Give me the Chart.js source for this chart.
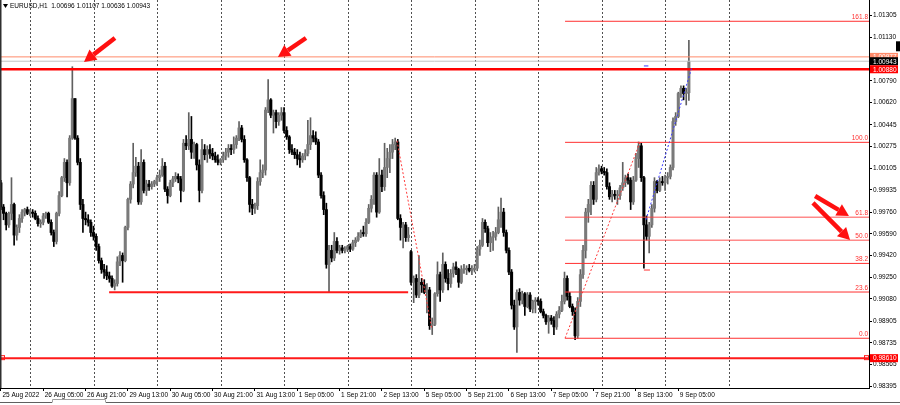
<!DOCTYPE html>
<html><head><meta charset="utf-8">
<script src="https://cdn.jsdelivr.net/npm/chart.js@4.4.0/dist/chart.umd.min.js"></script>
<style>html,body{margin:0;padding:0;background:#fff;overflow:hidden}canvas{display:block}</style>
</head><body>
<canvas id="c" width="900" height="405"></canvas>
<script>
// EURUSD H1, bars from 25 Aug 2022 13:00 (index 0) to 9 Sep 2022 09:00
const openP = [
0.9999,0.9980,0.9975,0.9966,0.9975,0.9982,0.9958,0.9964,0.9971,0.9976,
0.9978,0.9975,0.9976,0.9975,0.9971,0.9967,0.9968,0.9973,0.9975,0.9968,
0.9960,0.9953,0.9975,0.9989,1.0003,1.0015,0.9999,1.0034,1.0065,1.0034,
1.0015,0.9982,0.9971,0.9970,0.9968,0.9960,0.9957,0.9949,0.9938,0.9931,
0.9929,0.9926,0.9924,0.9918,0.9920,0.9937,0.9942,0.9938,0.9964,0.9986,
0.9998,1.0007,1.0012,0.9984,1.0015,0.9993,0.9998,0.9996,0.9998,1.0000,
1.0003,1.0005,1.0012,0.9994,0.9989,0.9999,1.0002,1.0004,1.0002,0.9993,
1.0030,1.0028,1.0033,1.0023,1.0029,1.0013,0.9993,1.0025,1.0021,1.0025,
1.0022,1.0020,1.0017,1.0015,1.0017,1.0020,1.0023,1.0026,1.0025,1.0029,
1.0034,1.0042,1.0033,1.0017,1.0003,0.9982,0.9979,0.9981,1.0000,1.0007,
1.0009,1.0056,1.0064,1.0052,1.0054,1.0047,1.0052,1.0054,1.0040,1.0035,
1.0025,1.0023,1.0021,1.0018,1.0017,1.0020,1.0022,1.0029,1.0036,1.0034,
1.0031,1.0005,0.9989,0.9978,0.9935,0.9946,0.9940,0.9953,0.9946,0.9948,
0.9946,0.9947,0.9949,0.9947,0.9952,0.9954,0.9957,0.9960,0.9959,0.9968,
0.9979,0.9986,1.0005,0.9976,1.0005,0.9996,1.0011,1.0018,1.0023,1.0029,
1.0031,0.9971,0.9964,0.9966,0.9956,0.9945,0.9921,0.9924,0.9911,0.9921,
0.9919,0.9913,0.9915,0.9887,0.9888,0.9912,0.9927,0.9915,0.9935,0.9924,
0.9920,0.9928,0.9933,0.9931,0.9921,0.9931,0.9931,0.9932,0.9930,0.9931,
0.9932,0.9947,0.9950,0.9968,0.9963,0.9952,0.9956,0.9957,0.9960,0.9970,
0.9976,0.9960,0.9946,0.9929,0.9903,0.9886,0.9913,0.9907,0.9912,0.9902,
0.9911,0.9900,0.9906,0.9907,0.9906,0.9898,0.9895,0.9890,0.9893,0.9891,
0.9886,0.9896,0.9899,0.9906,0.9924,0.9910,0.9902,0.9898,0.9879,0.9906,
0.9927,0.9946,0.9976,0.9982,0.9997,0.9986,1.0007,1.0010,1.0008,1.0007,
0.9996,0.9988,0.9990,0.9989,0.9989,0.9995,0.9999,1.0003,1.0001,0.9984,
1.0001,1.0018,1.0028,1.0003,0.9966,0.9957,0.9966,0.9979,1.0000,0.9993,
1.0000,0.9999,1.0003,1.0004,1.0011,1.0047,1.0051,1.0069,1.0073,1.0069,
1.00696];
const highP = [
1.0001,0.9982,0.9976,0.9976,1.0003,0.9983,0.9966,0.9974,0.9978,0.9979,
0.9980,0.9978,0.9978,0.9977,0.9973,0.9970,0.9975,0.9976,0.9976,0.9970,
0.9962,0.9976,0.9992,1.0004,1.0018,1.0017,1.0036,1.0090,1.0065,1.0036,
1.0018,0.9986,0.9976,0.9974,0.9970,0.9965,0.9959,0.9951,0.9940,0.9935,
0.9934,0.9929,0.9926,0.9923,0.9941,0.9945,0.9944,0.9965,0.9987,1.0000,
1.0030,1.0019,1.0015,1.0025,1.0017,1.0001,1.0001,1.0000,1.0001,1.0005,
1.0009,1.0018,1.0015,0.9996,1.0001,1.0004,1.0007,1.0006,1.0004,1.0033,
1.0036,1.0054,1.0051,1.0031,1.0030,1.0017,1.0033,1.0029,1.0028,1.0029,
1.0026,1.0023,1.0021,1.0018,1.0023,1.0026,1.0029,1.0029,1.0035,1.0036,
1.0047,1.0044,1.0036,1.0018,1.0004,0.9986,0.9983,1.0003,1.0017,1.0013,
1.0058,1.0080,1.0065,1.0056,1.0056,1.0054,1.0058,1.0058,1.0043,1.0036,
1.0029,1.0026,1.0025,1.0023,1.0022,1.0025,1.0048,1.0050,1.0040,1.0039,
1.0033,1.0007,0.9992,0.9983,0.9950,0.9950,0.9960,0.9956,0.9950,0.9950,
0.9949,0.9950,0.9951,0.9954,0.9956,0.9960,0.9962,0.9965,0.9971,0.9982,
0.9989,1.0007,1.0007,1.0018,1.0009,1.0030,1.0026,1.0029,1.0033,1.0034,
1.0033,0.9974,0.9968,0.9968,0.9964,0.9946,0.9926,0.9927,0.9942,0.9924,
0.9923,0.9920,0.9917,0.9893,0.9913,0.9937,0.9929,0.9944,0.9937,0.9931,
0.9931,0.9936,0.9937,0.9932,0.9934,0.9935,0.9934,0.9935,0.9934,0.9935,
0.9949,0.9954,0.9971,0.9970,0.9965,0.9960,0.9961,0.9964,0.9980,0.9987,
0.9979,0.9962,0.9948,0.9931,0.9907,0.9915,0.9916,0.9914,0.9913,0.9913,
0.9913,0.9907,0.9909,0.9909,0.9908,0.9900,0.9896,0.9895,0.9895,0.9894,
0.9898,0.9902,0.9911,0.9929,0.9926,0.9913,0.9904,0.9901,0.9909,0.9931,
0.9950,0.9979,0.9986,1.0000,1.0000,1.0011,1.0013,1.0012,1.0011,1.0010,
0.9999,0.9993,0.9993,0.9993,0.9997,1.0015,1.0005,1.0006,1.0003,1.0004,
1.0022,1.0031,1.0030,1.0004,0.9973,0.9968,0.9982,1.0003,1.0001,1.0003,
1.0004,1.0005,1.0007,1.0013,1.0050,1.0054,1.0070,1.0075,1.0075,1.0073,
1.01107];
const lowP = [
0.9978,0.9970,0.9962,0.9964,0.9970,0.9950,0.9954,0.9960,0.9968,0.9973,
0.9974,0.9973,0.9972,0.9970,0.9965,0.9964,0.9966,0.9971,0.9967,0.9958,
0.9949,0.9951,0.9973,0.9988,1.0000,0.9988,0.9997,1.0033,1.0033,1.0013,
0.9978,0.9960,0.9966,0.9965,0.9957,0.9954,0.9946,0.9936,0.9928,0.9924,
0.9923,0.9921,0.9917,0.9915,0.9918,0.9934,0.9921,0.9937,0.9962,0.9983,
0.9995,1.0004,0.9982,0.9982,0.9991,0.9989,0.9993,0.9994,0.9996,0.9997,
1.0000,1.0004,0.9992,0.9983,0.9988,0.9996,1.0000,0.9999,0.9984,0.9992,
1.0025,1.0025,1.0018,1.0018,1.0009,0.9984,0.9991,1.0017,1.0015,1.0018,
1.0017,1.0015,1.0013,1.0013,1.0015,1.0017,1.0019,1.0021,1.0022,1.0026,
1.0032,1.0031,1.0015,1.0000,0.9976,0.9974,0.9975,0.9978,0.9997,1.0003,
1.0005,1.0054,1.0050,1.0038,1.0042,1.0044,1.0048,1.0038,1.0033,1.0022,
1.0021,1.0018,1.0013,1.0011,1.0015,1.0017,1.0020,1.0025,1.0031,1.0029,
1.0003,0.9987,0.9974,0.9932,0.9913,0.9937,0.9938,0.9944,0.9943,0.9944,
0.9944,0.9945,0.9945,0.9946,0.9949,0.9953,0.9956,0.9957,0.9957,0.9967,
0.9976,0.9982,0.9972,0.9975,0.9992,0.9993,1.0003,1.0007,1.0018,1.0025,
0.9970,0.9954,0.9948,0.9953,0.9953,0.9919,0.9905,0.9909,0.9909,0.9913,
0.9912,0.9897,0.9884,0.9880,0.9887,0.9910,0.9906,0.9913,0.9921,0.9915,
0.9917,0.9925,0.9927,0.9917,0.9920,0.9928,0.9927,0.9929,0.9927,0.9929,
0.9930,0.9942,0.9949,0.9960,0.9949,0.9945,0.9946,0.9954,0.9959,0.9964,
0.9957,0.9944,0.9927,0.9900,0.9884,0.9866,0.9903,0.9904,0.9895,0.9901,
0.9898,0.9897,0.9897,0.9903,0.9897,0.9893,0.9888,0.9881,0.9888,0.9880,
0.9884,0.9893,0.9898,0.9904,0.9907,0.9901,0.9895,0.9876,0.9877,0.9902,
0.9924,0.9940,0.9968,0.9974,0.9982,0.9984,1.0005,1.0006,1.0005,0.9994,
0.9986,0.9984,0.9986,0.9982,0.9986,0.9993,0.9996,0.9998,0.9978,0.9982,
1.0000,1.0011,1.0000,0.9932,0.9954,0.9944,0.9964,0.9976,0.9991,0.9992,
0.9997,0.9993,0.9998,1.0002,1.0009,1.0044,1.0050,1.0066,1.0064,1.0060,
1.00636];
const closeP = [
0.9980,0.9975,0.9966,0.9975,0.9982,0.9958,0.9964,0.9971,0.9976,0.9978,
0.9975,0.9976,0.9975,0.9971,0.9967,0.9968,0.9973,0.9975,0.9968,0.9960,
0.9953,0.9975,0.9989,1.0003,1.0015,0.9999,1.0034,1.0065,1.0034,1.0015,
0.9982,0.9971,0.9970,0.9968,0.9960,0.9957,0.9949,0.9938,0.9931,0.9929,
0.9926,0.9924,0.9918,0.9920,0.9937,0.9942,0.9938,0.9964,0.9986,0.9998,
1.0007,1.0012,0.9984,1.0015,0.9993,0.9998,0.9996,0.9998,1.0000,1.0003,
1.0005,1.0012,0.9994,0.9989,0.9999,1.0002,1.0004,1.0002,0.9993,1.0030,
1.0028,1.0033,1.0023,1.0029,1.0013,0.9993,1.0025,1.0021,1.0025,1.0022,
1.0020,1.0017,1.0015,1.0017,1.0020,1.0023,1.0026,1.0025,1.0029,1.0034,
1.0042,1.0033,1.0017,1.0003,0.9982,0.9979,0.9981,1.0000,1.0007,1.0009,
1.0056,1.0064,1.0052,1.0054,1.0047,1.0052,1.0054,1.0040,1.0035,1.0025,
1.0023,1.0021,1.0018,1.0017,1.0020,1.0022,1.0029,1.0036,1.0034,1.0031,
1.0005,0.9989,0.9978,0.9935,0.9946,0.9940,0.9953,0.9946,0.9948,0.9946,
0.9947,0.9949,0.9947,0.9952,0.9954,0.9957,0.9960,0.9959,0.9968,0.9979,
0.9986,1.0005,0.9976,1.0005,0.9996,1.0011,1.0018,1.0023,1.0029,1.0031,
0.9971,0.9964,0.9966,0.9956,0.9958,0.9921,0.9924,0.9911,0.9921,0.9919,
0.9913,0.9915,0.9887,0.9888,0.9912,0.9927,0.9915,0.9935,0.9924,0.9920,
0.9928,0.9933,0.9931,0.9921,0.9931,0.9931,0.9932,0.9930,0.9931,0.9932,
0.9947,0.9950,0.9968,0.9963,0.9952,0.9956,0.9957,0.9960,0.9970,0.9976,
0.9960,0.9946,0.9929,0.9903,0.9886,0.9913,0.9907,0.9912,0.9902,0.9911,
0.9900,0.9906,0.9907,0.9906,0.9898,0.9895,0.9890,0.9893,0.9891,0.9886,
0.9896,0.9899,0.9906,0.9924,0.9910,0.9902,0.9898,0.9879,0.9906,0.9927,
0.9946,0.9976,0.9982,0.9997,0.9986,1.0007,1.0010,1.0008,1.0007,0.9996,
0.9988,0.9990,0.9989,0.9989,0.9995,0.9999,1.0003,1.0001,0.9984,1.0001,
1.0018,1.0028,1.0003,0.9966,0.9957,0.9966,0.9979,1.0000,0.9993,1.0000,
0.9999,1.0003,1.0004,1.0011,1.0047,1.0051,1.0069,1.0073,1.0069,1.0070,
1.00943];

const xTickBars = [0,16,32,48,64,80,96,112,128,144,160,176,192,208,224,240,256];
const xTickLabels = ["25 Aug 2022","26 Aug 05:00","26 Aug 21:00","29 Aug 13:00","30 Aug 05:00","30 Aug 21:00","31 Aug 13:00","1 Sep 05:00","1 Sep 21:00","2 Sep 13:00","5 Sep 05:00","5 Sep 21:00","6 Sep 13:00","7 Sep 05:00","7 Sep 21:00","8 Sep 13:00","9 Sep 05:00"];
const daySeparatorBars = [11,35,59,83,107,131,155,179,203,227,251,275];
const yTickValues = [0.98395,0.98565,0.98735,0.98905,0.99080,0.99250,0.99420,0.99590,0.99760,0.99935,1.00105,1.00275,1.00445,1.00620,1.00790,1.01130,1.01305];

const hLevels = [
  {price: 1.00977, color: '#ff8a6a', width: 1},
  {price: 1.00943, color: '#c4c4c4', width: 1},
  {price: 1.00880, color: '#ff0000', width: 2.5},
  {price: 0.98615, color: '#ff1a1a', width: 2}
];
const supportLine = {fromBar: 40.9, toBar: 153.9, price: 0.99131};
const fibLowPrice = 0.98771, fibHighPrice = 1.00307, fibStartBar = 213.2;
const fibLevels = [0, 23.6, 38.2, 50.0, 61.8, 100.0, 161.8];
const trendLines = [
  {from:[149.7, 1.0032], to:[162.9, 0.9884], color:'#ff3b3b'},
  {from:[213.2, 0.98771], to:[241.5, 1.00307], color:'#ff3b3b'},
  {from:[243.8, 0.9970], to:[261.2, 1.0090], color:'#3a3aff'}
];
const arrows = [
  {from:[43.1, 1.01125], to:[31.4, 1.00937]},
  {from:[115.3, 1.01125], to:[104.7, 1.00976]},
  {from:[307.7, 0.99886], to:[320.5, 0.99730]},
  {from:[306.9, 0.99832], to:[320.9, 0.99541]}
];
const priceTags = [
  {price:1.00977, text:'1.00977', bg:'#ff8a6a', fg:'#ffffff'},
  {price:1.00943, text:'1.00943', bg:'#000000', fg:'#ffffff'},
  {price:1.00880, text:'1.00880', bg:'#ff0000', fg:'#ffffff'},
  {price:0.98615, text:'0.98610', bg:'#ff0000', fg:'#ffffff'}
];
const headerText = 'EURUSD,H1  1.00696 1.01107 1.00636 1.00943';
const FONT = 'Liberation Sans';

const bodies = [], wicks = [], bodyCol = [], wickCol = [];
openP.forEach((o, i) => {
  const c = closeP[i];
  const bull = c >= o;
  bodies.push({x: i, y: [o, c]});
  wicks.push({x: i, y: [lowP[i], highP[i]]});
  bodyCol.push(bull ? '#7a7a7a' : '#000000');
  wickCol.push(bull ? '#606060' : '#000000');
});

const overlay = {
  id: 'overlay',
  beforeDatasetsDraw(chart) {
    const {ctx, chartArea: a, scales: {x}} = chart;
    ctx.save();
    ctx.strokeStyle = '#505050'; ctx.lineWidth = 1; ctx.setLineDash([2, 2]);
    daySeparatorBars.forEach(b => {
      const px = Math.round(x.getPixelForValue(b)) + 0.5;
      ctx.beginPath(); ctx.moveTo(px, a.top); ctx.lineTo(px, a.bottom); ctx.stroke();
    });
    ctx.restore();
  },
  afterDatasetsDraw(chart) {
    const {ctx, chartArea: a, scales: {x, y}} = chart;
    ctx.save();
    hLevels.forEach(l => {
      const py = y.getPixelForValue(l.price);
      ctx.strokeStyle = l.color; ctx.lineWidth = l.width;
      ctx.beginPath(); ctx.moveTo(a.left, py); ctx.lineTo(a.right, py); ctx.stroke();
    });
    const sq = y.getPixelForValue(hLevels[3].price);
    ctx.strokeStyle = '#ff1a1a'; ctx.lineWidth = 1;
    ctx.strokeRect(a.left + 0.5, sq - 2.5, 4, 4);
    ctx.strokeRect(a.right - 4.5, sq - 2.5, 4, 4);
    ctx.strokeStyle = '#ff1a1a'; ctx.lineWidth = 2;
    const sy = y.getPixelForValue(supportLine.price);
    ctx.beginPath(); ctx.moveTo(x.getPixelForValue(supportLine.fromBar), sy); ctx.lineTo(x.getPixelForValue(supportLine.toBar), sy); ctx.stroke();
    const fx = x.getPixelForValue(fibStartBar);
    ctx.font = '6.5px "' + FONT + '"'; ctx.textAlign = 'right'; ctx.textBaseline = 'bottom';
    fibLevels.forEach(lv => {
      const p = fibLowPrice + (fibHighPrice - fibLowPrice) * lv / 100;
      const py = y.getPixelForValue(p);
      const soft = (lv === 61.8 || lv === 50.0);
      ctx.strokeStyle = soft ? 'rgba(255,60,60,0.6)' : '#ff3030';
      ctx.lineWidth = soft ? 1.6 : 1;
      ctx.beginPath(); ctx.moveTo(fx, py); ctx.lineTo(a.right, py); ctx.stroke();
      ctx.fillStyle = '#ff3030';
      ctx.fillText(lv.toFixed(1), a.right - 1, py - 1);
    });
    ctx.lineWidth = 1; ctx.setLineDash([2, 2]);
    trendLines.forEach(t => {
      ctx.strokeStyle = t.color;
      ctx.beginPath();
      ctx.moveTo(x.getPixelForValue(t.from[0]), y.getPixelForValue(t.from[1]));
      ctx.lineTo(x.getPixelForValue(t.to[0]), y.getPixelForValue(t.to[1]));
      ctx.stroke();
    });
    ctx.setLineDash([]);
    ctx.strokeStyle = '#3a3aff'; ctx.lineWidth = 1;
    let py = y.getPixelForValue(1.00906);
    ctx.beginPath(); ctx.moveTo(x.getPixelForValue(243.0), py); ctx.lineTo(x.getPixelForValue(244.7), py); ctx.stroke();
    ctx.strokeStyle = '#ff3030';
    py = y.getPixelForValue(0.99306);
    ctx.beginPath(); ctx.moveTo(x.getPixelForValue(243.0), py); ctx.lineTo(x.getPixelForValue(245.3), py); ctx.stroke();
    arrows.forEach(ar => {
      const x1 = x.getPixelForValue(ar.from[0]), y1 = y.getPixelForValue(ar.from[1]);
      const x2 = x.getPixelForValue(ar.to[0]), y2 = y.getPixelForValue(ar.to[1]);
      const ang = Math.atan2(y2 - y1, x2 - x1);
      const hl = 12, hw = 6.5;
      const bx = x2 - Math.cos(ang) * hl, by = y2 - Math.sin(ang) * hl;
      ctx.strokeStyle = '#ff1010'; ctx.lineWidth = 4.5; ctx.lineCap = 'butt';
      ctx.beginPath(); ctx.moveTo(x1, y1); ctx.lineTo(bx, by); ctx.stroke();
      ctx.fillStyle = '#ff1010';
      ctx.beginPath();
      ctx.moveTo(x2, y2);
      ctx.lineTo(bx + Math.sin(ang) * hw, by - Math.cos(ang) * hw);
      ctx.lineTo(bx - Math.sin(ang) * hw, by + Math.cos(ang) * hw);
      ctx.closePath(); ctx.fill();
    });
    ctx.restore();
  },
  afterDraw(chart) {
    const {ctx, chartArea: a, scales: {y}, width} = chart;
    ctx.save();
    ctx.fillStyle = '#303030'; ctx.fillRect(0, 0, 1.5, a.bottom);
    ctx.font = '6.5px "' + FONT + '"'; ctx.textAlign = 'left'; ctx.textBaseline = 'middle';
    priceTags.forEach(t => {
      const py = y.getPixelForValue(t.price);
      ctx.fillStyle = t.bg; ctx.fillRect(a.right + 1, py - 4, width - a.right - 3, 8);
      ctx.fillStyle = t.fg; ctx.fillText(t.text, a.right + 4, py + 0.5);
    });
    const my = y.getPixelForValue(1.0106);
    ctx.fillStyle = '#000'; ctx.fillRect(width - 4, my - 5, 4, 10);
    ctx.fillStyle = '#000';
    ctx.beginPath(); ctx.moveTo(3, 4); ctx.lineTo(8, 4); ctx.lineTo(5.5, 8); ctx.closePath(); ctx.fill();
    ctx.font = '6.5px "' + FONT + '"'; ctx.textAlign = 'left'; ctx.textBaseline = 'middle';
    ctx.fillText(headerText, 10, 6.5);
    ctx.strokeStyle = '#606060'; ctx.lineWidth = 1;
    ctx.beginPath(); ctx.moveTo(0, 402.5); ctx.lineTo(52, 402.5); ctx.moveTo(106, 402.5); ctx.lineTo(width, 402.5); ctx.stroke();
    ctx.beginPath(); ctx.moveTo(52.5, 402.5); ctx.lineTo(52.5, 399.5); ctx.lineTo(105.5, 399.5); ctx.lineTo(105.5, 402.5); ctx.strokeStyle = '#a0a0a0'; ctx.stroke();
    ctx.restore();
  }
};

new Chart(document.getElementById('c'), {
  type: 'bar',
  data: {
    datasets: [
      {label: 'wick', data: wicks, backgroundColor: wickCol, barThickness: 1, grouped: false, order: 2, borderWidth: 0},
      {label: 'body', data: bodies, backgroundColor: bodyCol, barThickness: 2.4, grouped: false, order: 1, borderWidth: 0, minBarLength: 1}
    ]
  },
  options: {
    responsive: false, maintainAspectRatio: false, animation: false,
    layout: {padding: 0},
    plugins: {legend: {display: false}, tooltip: {enabled: false}},
    scales: {
      x: {
        type: 'linear', min: -0.338, max: 328.07, offset: false, bounds: 'data',
        grid: {drawOnChartArea: false, drawTicks: true, tickLength: 3, color: '#000', offset: false},
        border: {display: true, color: '#000', width: 1},
        afterBuildTicks: s => { s.ticks = xTickBars.map(v => ({value: v})); },
        afterFit: s => { s.height = 17; s.paddingLeft = 0; s.paddingRight = 0; },
        ticks: {
          autoSkip: false, maxRotation: 0, minRotation: 0, align: 'start', labelOffset: 1.5, padding: 0,
          color: '#000', font: {family: FONT, size: 6.5},
          callback: (v, i) => xTickLabels[i]
        }
      },
      y: {
        type: 'linear', position: 'right', min: 0.98381, max: 1.01423, bounds: 'data',
        grid: {drawOnChartArea: false, drawTicks: true, tickLength: 3, color: '#000'},
        border: {display: true, color: '#000', width: 1},
        afterBuildTicks: s => { s.ticks = yTickValues.map(v => ({value: v})); },
        afterFit: s => { s.width = 31; s.paddingTop = 0; s.paddingBottom = 0; },
        ticks: {
          autoSkip: false, padding: 1, color: '#000', font: {family: FONT, size: 6.5},
          callback: v => v.toFixed(5)
        }
      }
    }
  },
  plugins: [overlay]
});
</script>
</body></html>
